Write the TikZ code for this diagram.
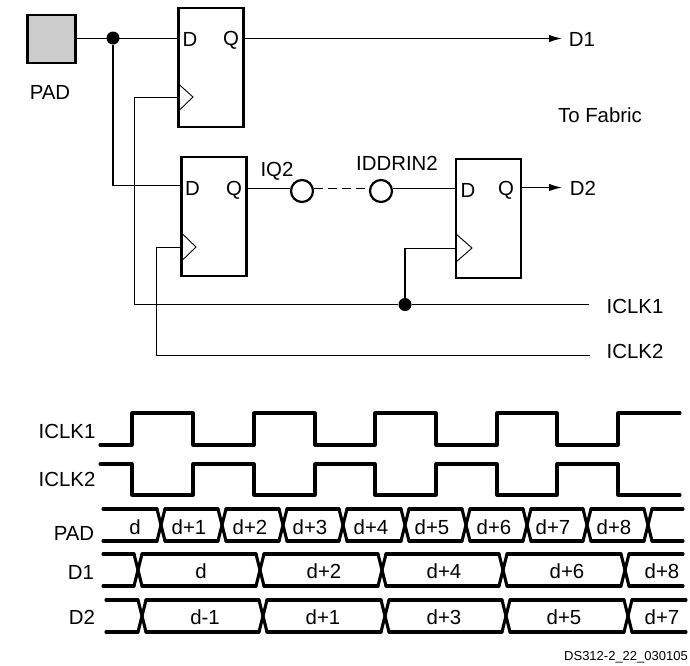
\documentclass[tikz,border=0pt]{standalone}
\usepackage{fontspec}
\setmainfont{Liberation Sans}
\usepackage{tikz}
\usetikzlibrary{arrows.meta}

\newcommand{\buslane}[4]{%
\foreach \xa/\xb in {#3} {
\draw[wave] (\xa,#1) -- (\xb,#1);
\draw[wave] (\xa,#2) -- (\xb,#2);
}
\foreach \xc in {#4} {
\draw[wave] ({\xc-4},#1) -- ({\xc+4},#2);
\draw[wave] ({\xc-4},#2) -- ({\xc+4},#1);
}
}

\tikzset{
txt/.style={inner sep=0pt,text height=14.3pt,text depth=0pt,font=\fontsize{20.4}{24}\selectfont},
ffbox/.style={draw,line width=2.2pt,inner sep=0pt,minimum width=65pt,minimum height=119pt},
pin/.style={draw,circle,line width=2.2pt,inner sep=0pt,minimum size=22pt},
dotnode/.style={circle,fill=black,inner sep=0pt,minimum size=13pt},
wire/.style={line width=1.2pt},
toout/.style={wire,-{Latex[length=13pt,width=7.5pt]}},
tri/.style={line width=.9pt},
wave/.style={line width=3.1pt,line cap=round,line join=round}
}

\begin{document}
\begin{tikzpicture}[x=1pt,y=-1pt]
\useasboundingbox (0,0) rectangle (690,665);

\node[draw,line width=2.2pt,fill=black!20,inner sep=0pt,minimum size=48pt] (padbox) at (51.5,39) {};
\node[txt] (padtxt) at (50,92) {PAD};

\node[ffbox] (ffone) at (211,67.5) {};
\node[ffbox] (fftwo) at (214,216.5) {};
\node[ffbox] (ffthree) at (488.5,218.5) {};

\node[txt] (done) at (190,39) {D};
\node[txt] (qone) at (231,38) {Q};
\node[txt] (dtwo) at (192.5,188) {D};
\node[txt] (qtwo) at (234,188) {Q};
\node[txt] (dthree) at (468,190) {D};
\node[txt] (qthree) at (506,188) {Q};

\draw[tri] (178.5,84) -- (193,97) -- (178.5,111);
\draw[tri] (181.5,233) -- (196,247) -- (181.5,261);
\draw[tri] (456,234) -- (472,248) -- (456,262);

\node[dotnode] (dotpad) at (113,38) {};
\node[dotnode] (dotclk) at (405,304.5) {};
\node[pin] (pinone) at (302,191) {};
\node[pin] (pintwo) at (381,191) {};

\coordinate (outone) at (562,38.5);
\coordinate (outtwo) at (562,187.5);
\coordinate (endone) at (589,304.5);
\coordinate (endtwo) at (590,355.5);
\coordinate (cornerone) at (134.5,304.5);
\coordinate (cornertwo) at (156.5,355.5);
\coordinate (clkone) at (178,97.5);
\coordinate (clktwo) at (181,247.5);
\coordinate (clkthree) at (456,248.5);

\draw[wire] (padbox.east |- outone) -- (dotpad.center |- outone) -- (ffone.west |- outone);
\draw[wire] (dotpad) |- (fftwo.west |- 0,185.5);
\draw[toout] (ffone.east |- outone) -- (outone);
\draw[wire] (fftwo.east |- 0,188.5) -- (pinone.west |- 0,188.5);
\draw[wire,dashed,dash pattern=on 9pt off 5pt,line width=1.6pt] (pinone.east |- 0,188.5) -- (pintwo.west |- 0,188.5);
\draw[wire] (pintwo.east |- 0,188.5) -- (ffthree.west |- 0,188.5);
\draw[toout] (ffthree.east |- outtwo) -- (outtwo);
\draw[wire] (clkone) -| (cornerone) -- (dotclk) -- (endone);
\draw[wire] (clktwo) -| (cornertwo) -- (endtwo);
\draw[wire] (dotclk) |- (clkthree);

\node[txt] (lblone) at (582,39) {D1};
\node[txt] (lblfabric) at (600,115) {To Fabric};
\node[txt] (lbltwo) at (583,188) {D2};
\node[txt] (lblclkone) at (635,306) {ICLK1};
\node[txt] (lblclktwo) at (635,351) {ICLK2};
\node[txt] (lbliq) at (277,169) {IQ2};
\node[txt] (lblidd) at (397,163) {IDDRIN2};

\node[txt] (waveclkone) at (67,431) {ICLK1};
\node[txt] (waveclktwo) at (67,479) {ICLK2};
\node[txt] (wavepad) at (74,533) {PAD};
\node[txt] (waveone) at (81,572) {D1};
\node[txt] (wavetwo) at (82,617) {D2};

\draw[wave] (100,445) -| (132,413) -| (193,445) -| (254,413) -| (315,445) -| (375,413) -| (436,445) -| (497,413) -| (557,445) -| (618,413) -- (680,413);
\draw[wave] (100,464) -| (132,495) -| (193,464) -| (254,495) -| (315,464) -| (375,495) -| (436,464) -| (497,495) -| (557,464) -| (618,495) -- (680,495);

\buslane{509}{541}{103/157,165/218,226/279,287/339,347/401,409/462,470/523,531/583,591/644,652/683}{161,222,283,343,405,466,527,587,648}
\buslane{554}{586}{103/134,142/256,264/378,386/499,507/621,629/683}{138,260,382,503,625}
\buslane{600}{632}{106/138,146/259,267/381,389/502,510/624,632/686}{142,263,385,506,628}

\foreach \xd/\txt in {135/d,189/d+1,250/d+2,310/d+3,371/d+4,432/d+5,494/d+6,553/d+7,614/d+8}
\node[txt] (pad\xd) at (\xd,527) {\txt};
\foreach \xd/\txt in {201/d,324/d+2,444/d+4,567/d+6,662/d+8}
\node[txt] (one\xd) at (\xd,571) {\txt};
\foreach \xd/\txt in {205/d-1,323/d+1,444/d+3,564/d+5,662/d+7}
\node[txt] (two\xd) at (\xd,617) {\txt};

\node[inner sep=0pt,font=\fontsize{13}{15}\selectfont] (docid) at (626,657) {DS312-2\_22\_030105};
\end{tikzpicture}
\end{document}
